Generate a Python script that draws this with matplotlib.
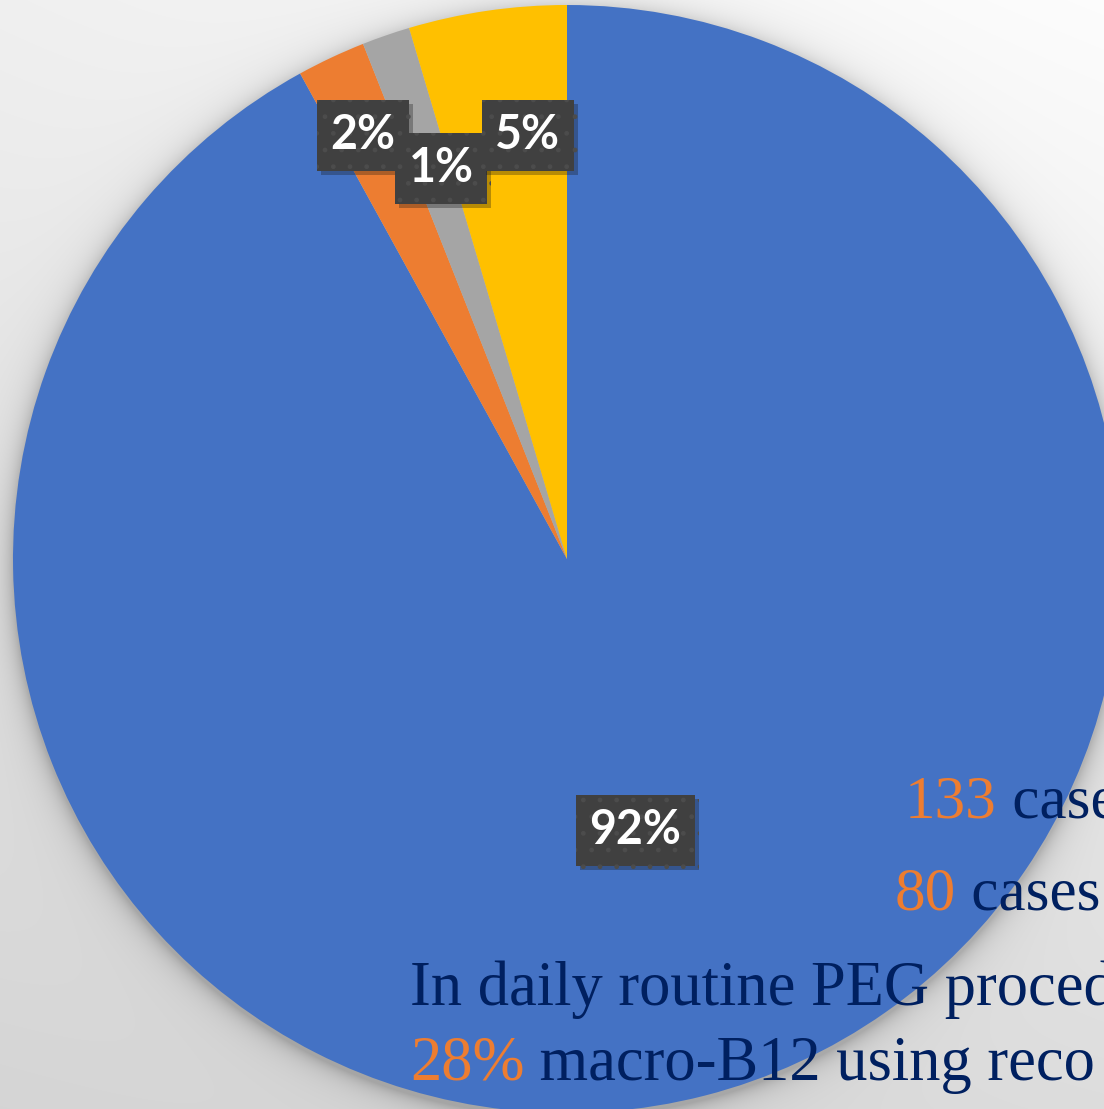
import numpy as np
import matplotlib.pyplot as plt
from matplotlib import patheffects

# pie shares
shares = [92.0, 2.0, 1.4, 4.6]
colors = ['#4472C4', '#ED7D31', '#A5A5A5', '#FFC000']

# caption lines: (highlighted part, rest)
caption = [
    ('133', ' cases'),
    ('80', ' cases'),
    ('', 'In daily routine PEG procedures'),
    ('28%', ' macro-B12 using reco'),
]

W, H = 1104, 1109
cx, cy, R = 567, H - 559, 554

fig = plt.figure(figsize=(W / 100, H / 100), dpi=100)
ax = fig.add_axes([0, 0, 1, 1])

# grey gradient background with a soft shadow around the pie
xx, yy = np.meshgrid(np.arange(W) + 0.5, np.arange(H) + 0.5)
xn = xx / W
yu = yy / H
bg = 0.835 + 0.105 * yu + 0.03 * xn + 0.02 * xn * yu
d = np.hypot(xx - cx, yy - (cy - 4)) - R
shade = np.where(d > 0, 0.15 * np.exp(-d / 9) + 0.05 * np.exp(-d / 30), 0.2)
img = np.clip(bg - shade, 0, 1)
ax.imshow(np.dstack([img] * 3), extent=(0, W, 0, H), origin='lower', zorder=0)

wedges, _ = ax.pie(shares, colors=colors, startangle=90, counterclock=False,
                   center=(cx, cy), radius=R, frame=True,
                   wedgeprops=dict(linewidth=0))
for w in wedges:
    w.set_zorder(2)

ax.set_xlim(0, W)
ax.set_ylim(0, H)
ax.set_aspect('equal')
ax.axis('off')

# percentage labels, placed by wedge mid angle (radius fraction, angle nudge)
total = sum(shares)
label_pos = [(0.505, -0.3), (0.849, 0.55), (0.741, -1.2), (0.768, -3.0)]
for w, v, (rf, nudge) in zip(wedges, shares, label_pos):
    ang = np.deg2rad((w.theta1 + w.theta2) / 2 + nudge)
    x = cx + rf * R * np.cos(ang)
    y = cy + rf * R * np.sin(ang)
    t = ax.text(x, y, '%.0f%%' % (100 * v / total), ha='center', va='center',
                fontsize=33.5, fontweight='bold', family='Lato', color='white',
                zorder=5,
                bbox=dict(boxstyle='square,pad=0.29', fc='#404040',
                          ec='#4c4c4c', lw=0, hatch='.'))
    t.get_bbox_patch().set_path_effects(
        [patheffects.withSimplePatchShadow(offset=(3, -3), alpha=0.3)])

# caption text over the chart: (left x, baseline y from top, font size)
rows = [(905, 818, 44), (895, 910, 44), (410, 1005, 45), (410, 1080, 45)]
for (hl, rest), (x0, base, fs) in zip(caption, rows):
    y = H - base
    x = x0
    if hl:
        t = ax.text(x, y, hl, family='Liberation Serif', fontsize=fs,
                    color='#ED7D31', va='baseline', zorder=6)
        fig.canvas.draw()
        bb = t.get_window_extent()
        x = x + bb.width
    ax.text(x, y, rest, family='Liberation Serif', fontsize=fs,
            color='#002060', va='baseline', zorder=6)

fig.savefig('out.png', dpi=100)
